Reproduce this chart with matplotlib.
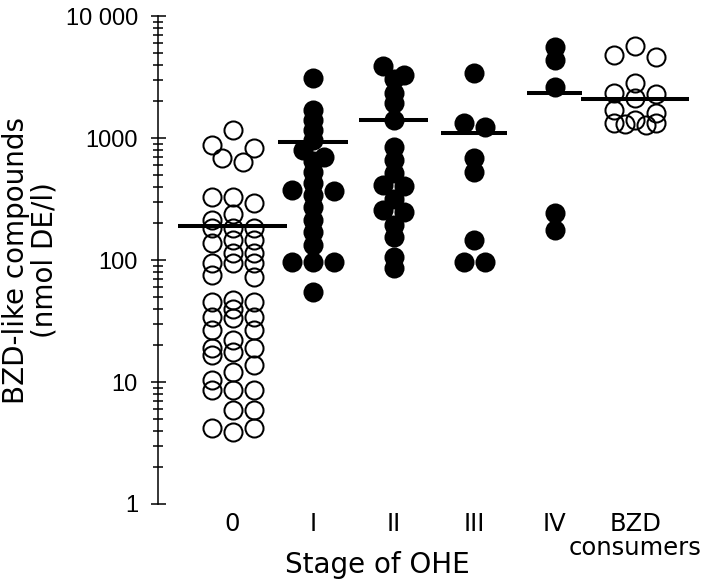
import numpy as np
import matplotlib
matplotlib.use('Agg')
import matplotlib.pyplot as plt
from matplotlib.ticker import FixedLocator, FixedFormatter, NullFormatter

plt.rcParams['font.family'] = 'DejaVu Sans'
plt.rcParams['xtick.labelsize'] = 17.5
plt.rcParams['ytick.labelsize'] = 17

# categories and values (nmol DE/l)
stages = ['0', 'I', 'II', 'III', 'IV', 'BZD\nconsumers']

stage0 = [877, 328, 213, 183, 146, 114, 94, 47, 40, 33.5, 26.7, 19, 16.6, 13.8, 10.4, 8.6, 4.2,
          1164, 828, 636, 328, 238, 183, 138, 94, 75, 45, 34, 26.7, 19, 12, 8.6, 5.9, 4.2,
          686, 293, 183, 146, 114, 94, 73, 45, 34, 22, 17.6, 8.6, 5.9, 3.9]
stage1 = [3100, 1697, 1405, 1164, 963, 797, 699, 650, 526, 428, 375, 365, 341, 272,
          213, 170, 133, 96, 96, 96, 55]
stage2 = [3890, 3280, 3050, 2340, 1936, 1405, 844, 660, 517, 412, 404, 316, 257, 247,
          194, 154, 106, 86]
stage3 = [3410, 1326, 1232, 686, 526, 146, 96, 96]
stage4 = [5570, 4360, 2620, 243, 176]
bzd = [5670, 4790, 4610, 2820, 2340, 2300, 2130, 1690, 1600, 1400, 1340, 1340, 1300, 1270]

group_lines = [190, 930, 1400, 1100, 2340, 2090]

yticks = [1, 10, 100, 1000, 10000]
ytick_labels = ['1', '10', '100', '1000', '10 000']

groups = [stage0, stage1, stage2, stage3, stage4, bzd]

# styles
filled = [False, True, True, True, True, False]
line_half = [0.68, 0.43, 0.43, 0.41, 0.34, 0.67]
row_gap = [1.0, 0.45, 0.5, 0.5, 0.5, 1.0]   # in marker diameters

fig = plt.figure(figsize=(7.2, 5.87), dpi=100)
ax = fig.add_axes([0.2194, 0.1414, 0.7667, 0.8313])
ax.set_yscale('log')
ax.set_ylim(1, 10000)
ax.set_xlim(-0.927, 5.93)

# pixel geometry, used to spread the dots side by side
ax_w = fig.get_figwidth() * fig.dpi * 0.7667
ax_h = fig.get_figheight() * fig.dpi * 0.8313
px_per_dec = ax_h / 4.0
x_per_px = (5.93 + 0.927) / ax_w
diam_px = 20.0
col_step = 21.0 * x_per_px


def swarm(vals, gap):
    logs = np.log10(vals)
    order = np.argsort(-logs, kind='stable')
    rows, cur = [], []
    for i in order:
        if cur and (logs[cur[0]] - logs[i]) * px_per_dec < gap * diam_px and len(cur) < 3:
            cur.append(i)
        else:
            if cur:
                rows.append(cur)
            cur = [i]
    rows.append(cur)
    offs = np.zeros(len(vals))
    for r in rows:
        n = len(r)
        pos = sorted([k - (n - 1) / 2 for k in range(n)], key=lambda p: (abs(p), p))
        for i, p in zip(r, pos):
            offs[i] = p
    return offs


ms = 13.0
mew = 1.45
for k, vals in enumerate(groups):
    offs = swarm(vals, row_gap[k])
    xs = k + offs * col_step
    ax.plot(xs, vals, 'o', ms=ms, mew=mew, mec='black',
            mfc='black' if filled[k] else 'none', zorder=2)
    ax.hlines(group_lines[k], k - line_half[k], k + line_half[k],
              colors='black', lw=2.9, zorder=3, capstyle='butt')

for s in ['top', 'right', 'bottom']:
    ax.spines[s].set_visible(False)
ax.spines['left'].set_linewidth(1.1)

ax.yaxis.set_major_locator(FixedLocator(yticks))
ax.yaxis.set_major_formatter(FixedFormatter(ytick_labels))
minor = [m * 10 ** d for d in range(4) for m in range(2, 10)]
ax.yaxis.set_minor_locator(FixedLocator(minor))
ax.yaxis.set_minor_formatter(NullFormatter())
ax.tick_params(axis='y', which='major', direction='inout', length=10.8, width=1.1, pad=9)
ax.tick_params(axis='y', which='minor', direction='inout', length=7.9, width=1.1)

ax.xaxis.set_major_locator(FixedLocator(range(len(stages))))
ax.xaxis.set_major_formatter(FixedFormatter(stages))
ax.tick_params(axis='x', length=0, pad=5.8)

ax.set_ylabel('BZD-like compounds\n(nmol DE/l)', fontsize=20, linespacing=1.05)
ax.yaxis.set_label_coords(-0.18, 0.5)
ax.set_xlabel('Stage of OHE', fontsize=20)
ax.xaxis.set_label_coords(0.398, -0.0963)

fig.canvas.draw()
for lbl in ax.get_yticklabels():
    lbl.set_fontfamily('Liberation Sans')
    lbl.set_fontsize(17)
for lbl in ax.get_xticklabels():
    lbl.set_fontsize(17.5)
    lbl.set_linespacing(1.0)

fig.savefig('out.png', dpi=100)
